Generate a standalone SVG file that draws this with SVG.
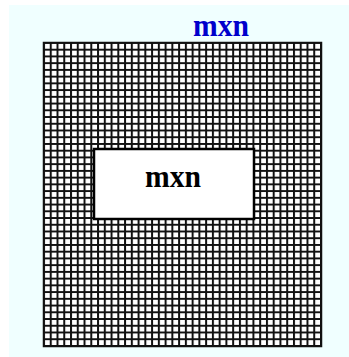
<svg xmlns="http://www.w3.org/2000/svg" width="349" height="357" viewBox="0 0 349 357">
<defs>
<style>
.lbl{font-family:"Liberation Serif","Times New Roman",serif;font-weight:bold;font-size:31px;text-anchor:middle}
</style>
<pattern id="grid" patternUnits="userSpaceOnUse" x="43" y="42" width="6.756" height="6.733">
<rect width="6.756" height="6.733" fill="#ffffff"/>
<path d="M1 0V6.733M0 1H6.756" stroke="#111" stroke-width="2" fill="none"/>
</pattern>
</defs>
<rect width="349" height="357" fill="#ffffff"/>
<rect x="9" y="5" width="340" height="352" fill="#f0ffff"/>
<g id="outer">
<rect x="43.5" y="42.5" width="278" height="304" fill="url(#grid)" stroke="#111" stroke-width="1.5"/>
<text class="lbl" x="221" y="36" fill="#0000cc" textLength="56" lengthAdjust="spacingAndGlyphs">mxn</text>
</g>
<g id="inner">
<rect x="94" y="149" width="160" height="70" fill="#ffffff" stroke="#000" stroke-width="2.5"/>
<text class="lbl" x="173" y="187" fill="#000" textLength="56" lengthAdjust="spacingAndGlyphs">mxn</text>
</g>
<g id="connectors"></g>
</svg>
